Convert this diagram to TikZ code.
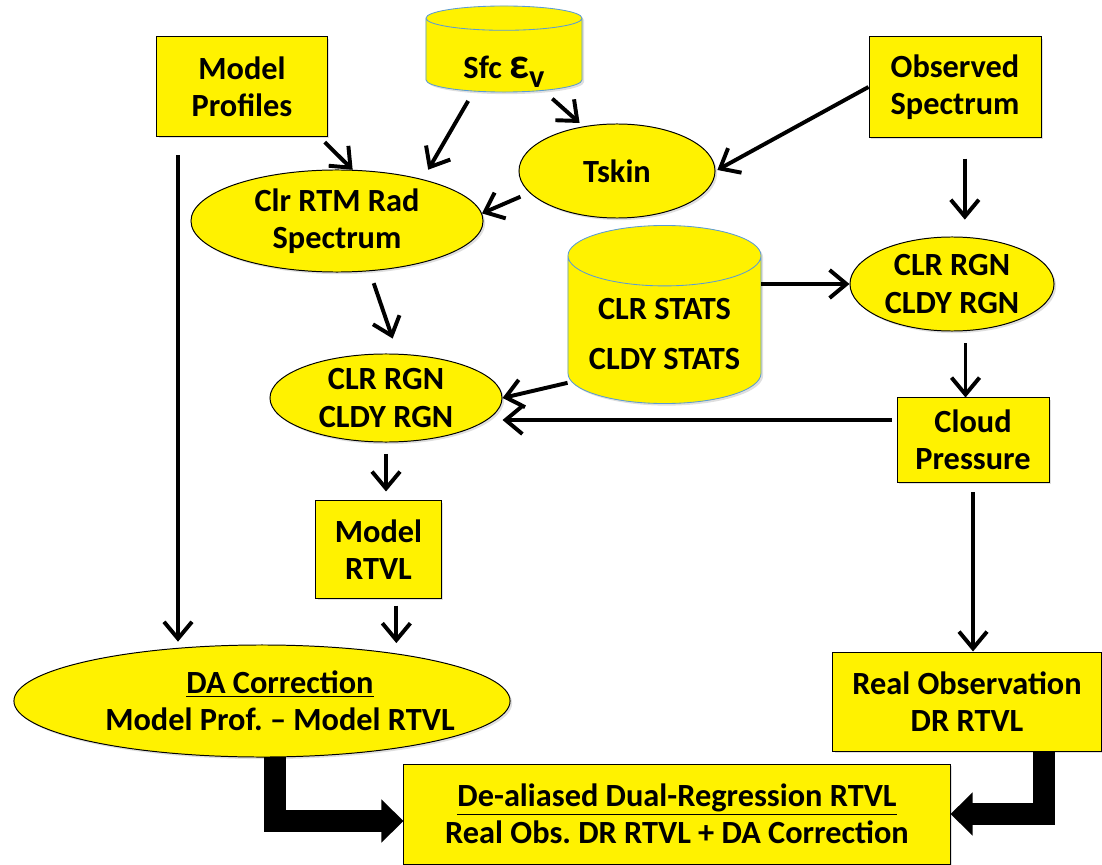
\documentclass[tikz,border=0pt]{standalone}
\usepackage{fontspec}
\setmainfont{Carlito}
\frenchspacing
\usetikzlibrary{arrows.meta, shapes.geometric, shadows}
\definecolor{drumblue}{RGB}{91,155,213}
\tikzset{
	boxnode/.style={draw=black, line width=0.7pt, fill=yellow, align=center,
		font=\bfseries\fontsize{23}{26.5}\selectfont,
		drop shadow={shadow xshift=1.5pt, shadow yshift=-1.5pt, opacity=0.25}}
}
\tikzset{
	ovalnode/.style={boxnode, ellipse, inner sep=0pt},
	drumnode/.style={boxnode, cylinder, shape border rotate=90, draw=drumblue, line width=0.6pt,
		cylinder uses custom fill, cylinder body fill=yellow, cylinder end fill=yellow!45,
		inner sep=0pt, anchor=shape center}
}
\tikzset{
	arr/.style={line width=2.8pt, -{Straight Barb[length=0.42cm,width=0.7cm]}},
	bigarr/.style={line width=0.53cm, line join=miter, -{Triangle[length=0.55cm,width=1.05cm]}}
}
\newcommand{\daline}[1]{\makebox[8.6cm]{\hspace*{0.9cm}#1}}

\begin{document}
\begin{tikzpicture}[x=0.025cm, y=-0.025cm]
    \useasboundingbox (0,0) rectangle (1102,865);
    % inputs
    \node[boxnode, minimum width=4.25cm, minimum height=2.475cm] (mprof) at (242,86.5) {Model\\Profiles};
    \node[drumnode, minimum width=3.9cm, minimum height=2.15cm, aspect=0.3,
      text height=0.5cm, text depth=0.2cm] (sfc) at (504,49)
      {\raisebox{-0.42cm}{Sfc {\fontsize{31}{31}\selectfont ε}\raisebox{-7pt}{v}}};
    \node[boxnode, minimum width=4.3cm, minimum height=2.5cm] (obs) at (955,87) {Observed\\Spectrum};
    % clear sky part
    \node[ovalnode, minimum width=4.9cm, minimum height=2.35cm] (tskin) at (617,171) {Tskin};
    \node[ovalnode, minimum width=7.3cm, minimum height=2.55cm] (clrrtm) at (337,221) {Clr RTM Rad\\Spectrum};
    \node[drumnode, minimum width=4.825cm, minimum height=4.45cm, aspect=0.4,
      font=\bfseries\fontsize{23}{36}\selectfont, text height=2cm, text depth=0cm]
      (stats) at (664.5,314.5) {CLR STATS\\CLDY STATS};
    \node[ovalnode, minimum width=5.1cm, minimum height=2.35cm] (rgnR) at (952,284) {CLR RGN\\CLDY RGN};
    \node[ovalnode, minimum width=5.8cm, minimum height=2.2cm] (rgnL) at (386,398) {CLR RGN\\CLDY RGN};
    \node[boxnode, minimum width=3.8cm, minimum height=2.1cm] (cldp) at (973,440) {Cloud\\Pressure};
    \node[boxnode, minimum width=3.125cm, minimum height=2.425cm] (mrtvl) at (378.5,549.5) {Model\\RTVL};
    % results
    \node[ovalnode, minimum width=12.4cm, minimum height=2.8cm] (dacorr) at (262,701)
      {\daline{\underline{DA Correction}}\\\daline{Model Prof. – Model RTVL}};
    \node[boxnode, minimum width=6.7cm, minimum height=2.475cm] (realobs) at (967,701.5) {Real Observation\\DR RTVL};
    \node[boxnode, minimum width=13.65cm, minimum height=2.5cm] (dealias) at (677,814)
      {\underline{De-aliased Dual-Regression RTVL}\\Real Obs. DR RTVL + DA Correction};

    \coordinate (cpin) at ([yshift=0.5cm]cldp.west);

    \draw[arr, shorten <=5.7pt] (mprof.-33) -- (clrrtm.73);
    \draw[arr, shorten <=7.8pt, shorten >=7.8pt] (sfc.-130) -- (clrrtm.26);
    \draw[arr, shorten <=8.5pt, shorten >=3.6pt] (sfc.-42) -- (tskin.127);
    \draw[arr, shorten >=1.5pt] (obs.west) -- (tskin.east);
    \draw[arr, shorten <=7pt] (tskin.-166) -- (clrrtm.3);
    \draw[arr, shorten <=15pt, shorten >=12pt] (obs.-79) -- (obs.-79 |- rgnR.north);
    \draw[arr, shorten <=9pt, shorten >=11.4pt] (clrrtm.-57) -- (rgnL.75);
    \draw[arr] (stats.east |- rgnR.west) -- (rgnR.west);
    \draw[arr] ([yshift=-1.325cm]stats.west) -- (rgnL.east);
    \draw[arr, shorten <=8.5pt] (rgnR.-74) -- (rgnR.-74 |- cldp.north);
    \draw[arr, shorten <=3.5pt] (cpin) -- (cpin -| rgnL.east);
    \draw[arr, shorten <=8pt, shorten >=6.4pt] (rgnL.south) -- (rgnL.south |- mrtvl.north);
    \draw[arr, shorten <=5pt, shorten >=1pt] (mrtvl.-70) -- (mrtvl.-70 |- dacorr.north);
    \draw[arr, shorten <=13.5pt, shorten >=2pt] (mprof.-142) -- (mprof.-142 |- dacorr.north);
    \draw[arr, shorten <=7pt] (cldp.south) -- (cldp.south |- realobs.north);

    \draw[bigarr] (dacorr.-77) |- ([yshift=-0.175cm]dealias.west);
    \draw[bigarr] (realobs.-33) |- (dealias.east);
\end{tikzpicture}
\end{document}
